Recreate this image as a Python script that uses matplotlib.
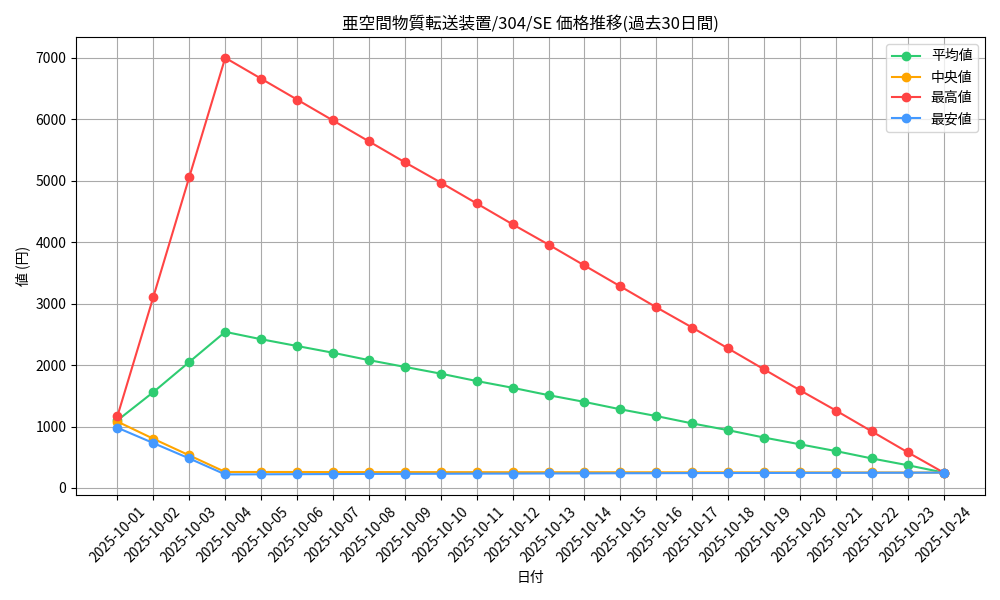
import matplotlib
matplotlib.use("Agg")
import matplotlib.pyplot as plt

plt.rcParams['font.family'] = ['Noto Sans CJK JP', 'DejaVu Sans']

dates = [f"2025-10-{d:02d}" for d in range(1, 25)]
avg = [1100, 1560, 2050, 2540, 2420, 2310, 2200, 2080, 1970, 1860, 1740, 1630, 1510, 1400, 1280, 1170, 1050, 940, 820, 710, 600, 480, 370, 250]
med = [1080, 800, 530, 260, 260, 260, 258, 258, 258, 257, 257, 256, 256, 256, 255, 255, 254, 254, 253, 253, 252, 252, 251, 250]
mx = [1170, 3110, 5060, 7000, 6660, 6320, 5980, 5640, 5300, 4970, 4630, 4290, 3960, 3620, 3280, 2940, 2610, 2270, 1930, 1590, 1260, 920, 580, 250]
mn = [980, 730, 480, 220, 222, 224, 226, 228, 230, 231, 233, 234, 236, 237, 239, 240, 242, 243, 244, 245, 246, 247, 248, 250]

fig, ax = plt.subplots(figsize=(10, 6), dpi=100)
ax.plot(dates, avg, marker='o', color='#2ecc71', label='平均値')
ax.plot(dates, med, marker='o', color='#ffa500', label='中央値')
ax.plot(dates, mx, marker='o', color='#ff4444', label='最高値')
ax.plot(dates, mn, marker='o', color='#4499ff', label='最安値')
ax.set_title('亜空間物質転送装置/304/SE 価格推移(過去30日間)')
ax.set_xlabel('日付')
ax.set_ylabel('値 (円)')
ax.grid(True, color='#aaaaaa')
ax.legend(loc='upper right')
plt.xticks(rotation=45)
plt.tight_layout()
plt.savefig('out.png')
